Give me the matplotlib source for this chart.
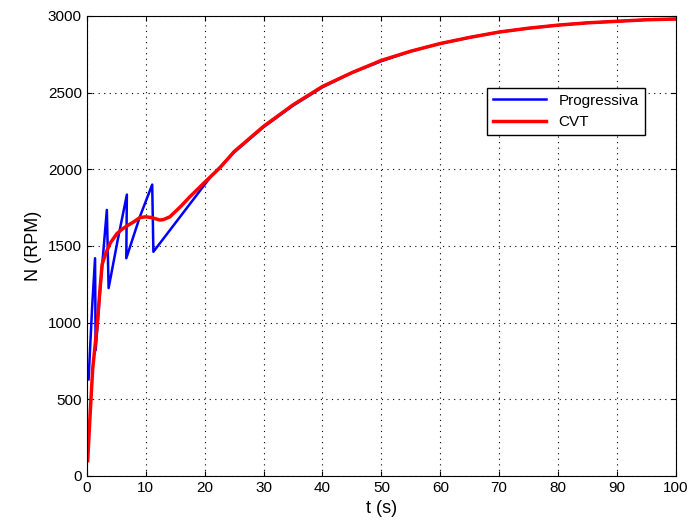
import matplotlib
matplotlib.use('Agg')
import matplotlib.pyplot as plt

# Progressiva (stepped gearbox)
t_prog = [0.3, 0.9, 1.4, 1.5, 2.4, 3.4, 3.7, 5.2, 6.8, 6.7, 9.0, 11.1, 11.3, 21.0,
          25, 30, 35, 40, 45, 50, 55, 60, 65, 70, 75, 80, 85, 90, 95, 100]
n_prog = [630, 1100, 1420, 820, 1280, 1735, 1225, 1530, 1835, 1420, 1690, 1900, 1462, 1950,
          2110, 2275, 2415, 2535, 2630, 2705, 2770, 2820, 2860, 2895, 2920, 2940, 2955, 2965, 2975, 2980]

# CVT
t_cvt = [0.15, 0.6, 1.0, 1.75, 2.2, 2.6, 3.2, 4.0, 5.1, 6.0, 7.0, 8.0, 9.0, 10.0, 11.0, 12.4, 13.0, 14.1,
         16, 17.5, 20, 22.6, 25, 30, 35, 40, 45, 50, 55, 60, 65, 70, 75, 80, 85, 90, 95, 100]
n_cvt = [100, 430, 700, 980, 1200, 1380, 1450, 1520, 1580, 1610, 1635, 1658, 1685, 1690, 1685, 1669, 1672, 1690,
         1760, 1821, 1915, 2010, 2115, 2280, 2420, 2540, 2630, 2710, 2770, 2820, 2860, 2895, 2920, 2940, 2955, 2965, 2975, 2980]

plt.rcParams['font.family'] = ['Liberation Sans', 'DejaVu Sans']

fig = plt.figure(figsize=(6.89, 5.31), dpi=100)
ax = fig.add_axes([0.126, 0.1036, 0.855, 0.8664])

ax.plot(t_prog, n_prog, color='#0000ff', linewidth=1.8, label='Progressiva')
ax.plot(t_cvt, n_cvt, color='#ff0000', linewidth=2.5, label='CVT')

ax.set_xlim(0, 100)
ax.set_ylim(0, 3000)
ax.set_xticks(range(0, 101, 10))
ax.set_yticks(range(0, 3001, 500))
ax.grid(True, color='black', linestyle=(0, (1, 4)), linewidth=0.8)
ax.tick_params(direction='in', labelsize=11, top=True, right=True)
ax.set_xlabel('t (s)', fontsize=13)
ax.set_ylabel('N (RPM)', fontsize=13)

leg = ax.legend(loc='upper left', bbox_to_anchor=(0.666, 0.861), fancybox=False,
                edgecolor='black', framealpha=1, fontsize=11, handlelength=3.5)
leg.get_frame().set_linewidth(1.0)

fig.savefig('out.png', dpi=100)
